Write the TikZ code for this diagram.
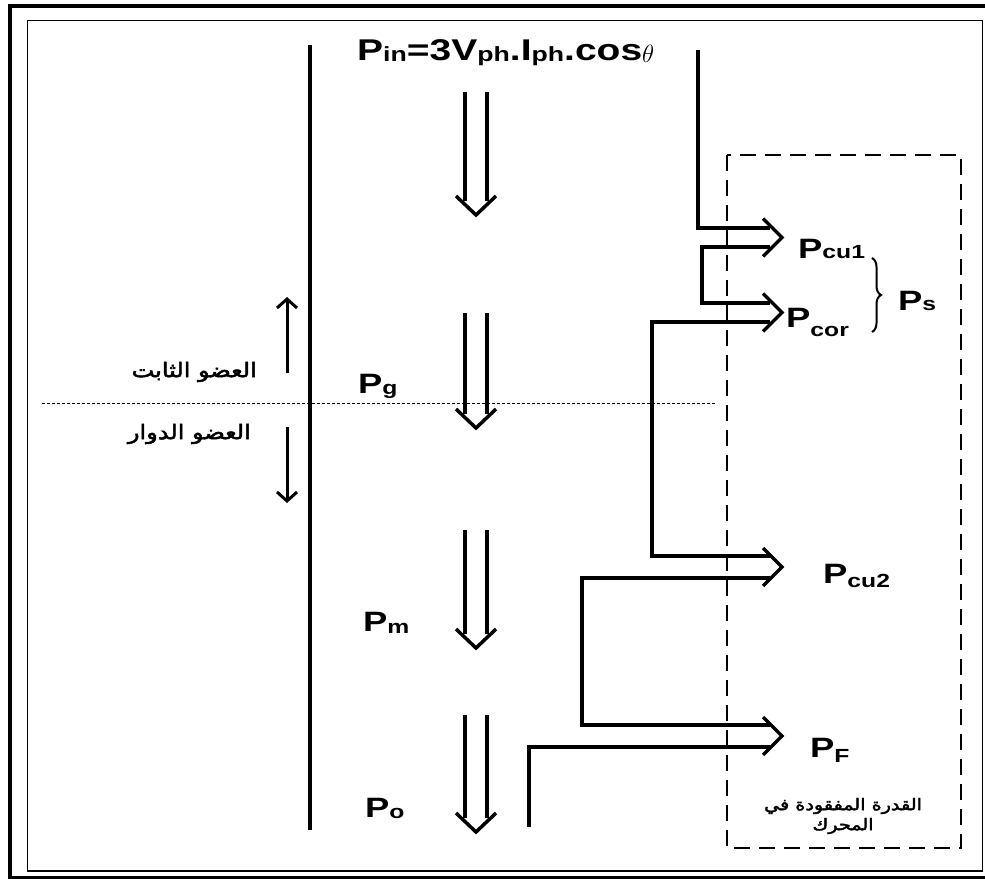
\documentclass[tikz,border=0pt]{standalone}
\usepackage{fontspec}
\setmainfont{Liberation Sans}[FakeStretch=1.3]
\newfontfamily\arabicfont[Script=Arabic,FakeBold=2.5,FakeStretch=1.2]{DejaVu Sans}
\TeXXeTstate=1
\usetikzlibrary{arrows.meta,decorations.pathreplacing}

\newcommand{\sbs}[2][1pt]{\raisebox{-#1}{\fontsize{19}{19}\selectfont #2}}
\newcommand{\tsbs}[1]{\raisebox{-1pt}{\fontsize{20.5}{20.5}\selectfont #1}}

\tikzset{
  flow/.style={line width=3.5pt, line cap=butt, line join=miter},
  chevron/.style={line width=3.5pt, line join=miter, line cap=butt},
  plabel/.style={font=\fontsize{28}{28}\selectfont\bfseries, inner sep=0pt, anchor=base west},
  titlelabel/.style={font=\fontsize{30}{30}\selectfont\bfseries, inner sep=0pt, anchor=base west},
  arlabel/.style={font=\fontsize{20}{24}\selectfont\arabicfont, inner sep=0pt, align=center},
  arsmall/.style={font=\fontsize{16}{20}\selectfont\arabicfont, inner sep=0pt, align=center},
  thinarrow/.style={line width=3pt, -{Straight Barb[length=9pt,width=20pt,line width=3pt]}},
}

\begin{document}
\begin{tikzpicture}[x=1pt,y=-1pt]
\useasboundingbox (0,0) rectangle (985,878);
\clip (0,0) rectangle (985,878);

% frames
\draw[line width=4pt] (9.5,5.5) rectangle (1000,877.5);
\draw[line width=1.2pt] (27.5,20.5) rectangle (982.5,871);

% main vertical line
\draw[line width=3.3pt] (310,45) -- (310,830);

% separation line
\draw[line width=0.9pt, dash pattern=on 3pt off 2pt] (42,403) -- (715,403);

% stator / rotor arrows
\draw[thinarrow] (287,373) -- (287,297);
\draw[thinarrow] (287,427) -- (287,503);
\node[arlabel, anchor=east] (stator) at (257,372) {\beginR العضو الثابت\endR};
\node[arlabel, anchor=east] (rotor) at (251,434) {\beginR العضو الدوار\endR};

% power flow down arrows
\foreach \t/\b in {92/215,313/428,530/648,715/832}{
  \draw[flow] (465,\t) -- (465,\b-14);
  \draw[flow] (487,\t) -- (487,\b-14);
  \draw[chevron] (456,\b-19) -- (476,\b) -- (496,\b-19);
}

% labels on the flow
\node[titlelabel] (pin) at (357,60) {P\tsbs{in}=3V\tsbs{ph}.I\tsbs{ph}.cos\raisebox{-2pt}{\mdseries\fontsize{34}{34}\selectfont$\theta$}};
\node[plabel] (pg) at (358,393) {P\sbs{g}};
\node[plabel] (pm) at (363,631) {P\sbs[2pt]{m}};
\node[plabel] (po) at (365,817) {P\sbs{o}};

% loss box
\draw[line width=2pt, dash pattern=on 16pt off 9pt] (727,155) rectangle (961,848);

% loss channels
\draw[flow] (698,50) -- (698,228) -- (770,228);
\draw[flow] (770,247) -- (702,247) -- (702,303) -- (770,303);
\draw[flow] (770,322) -- (652,322) -- (652,556) -- (770,556);
\draw[flow] (770,578) -- (582,578) -- (582,725) -- (770,725);
\draw[flow] (770,747) -- (529,747) -- (529,827);

\foreach \m in {237.5,312.5,567,736}{
  \draw[chevron] (763,\m-19) -- (782,\m) -- (763,\m+19);
}

% loss labels
\node[plabel] (pcu1) at (798,258) {P\sbs[0pt]{cu1}};
\node[plabel] (pcor) at (786,327) {P\sbs[9pt]{cor}};
\node[plabel] (ps) at (898,310) {P\sbs[0pt]{s}};
\node[plabel] (pcu2) at (823,583) {P\sbs[4pt]{cu2}};
\node[plabel] (pf) at (810,757) {P\sbs[5pt]{F}};
\draw[line width=2pt, decorate, decoration={brace, amplitude=9pt}] (872,258) -- (872,332);

\node[arsmall] (lost) at (843,816) {\beginR القدرة المفقودة في\endR\\\beginR المحرك\endR};
\end{tikzpicture}
\end{document}
